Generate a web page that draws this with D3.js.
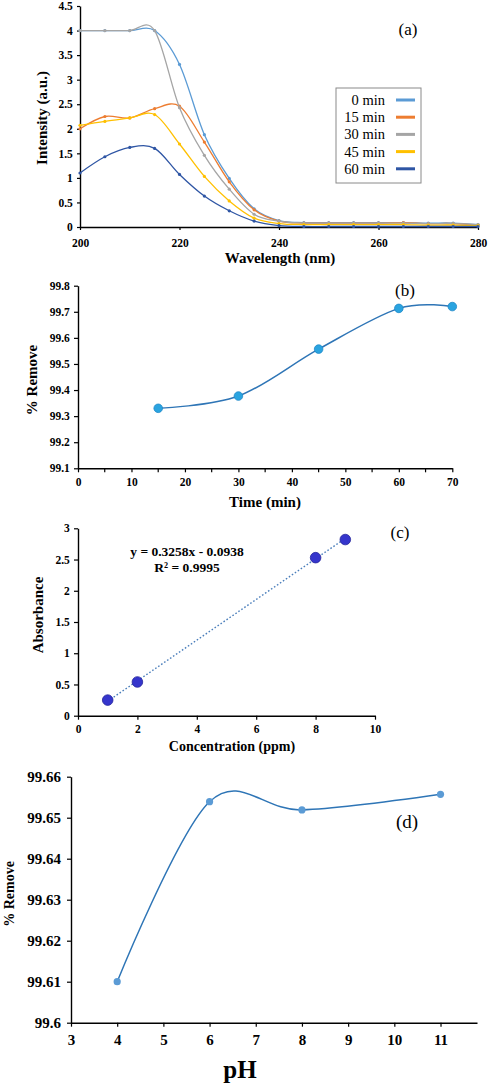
<!DOCTYPE html>
<html><head><meta charset="utf-8">
<script src="https://cdn.jsdelivr.net/npm/d3@7/dist/d3.min.js"></script>
<style>
body{margin:0;background:#fff;}
svg{display:block;}
text{font-family:"Liberation Serif","Times New Roman",serif;}
</style></head><body>
<svg id="c" width="491" height="1085"></svg>
<script>
// ---------- Panel (a) data ----------
const wavelengths = [200,205,210,215,220,225,230,235,240,245,250,255,260,265,270,275,280];
const seriesNames = ["0 min","15 min","30 min","45 min","60 min"];
const int0  = [4,4,4,4.0,3.31,1.88,0.99,0.37,0.13,0.09,0.09,0.09,0.09,0.09,0.08,0.08,0.05];
const int15 = [2.0,2.25,2.22,2.41,2.46,1.73,0.92,0.35,0.12,0.08,0.08,0.08,0.08,0.09,0.07,0.07,0.04];
const int30 = [4,4,4,4.0,2.43,1.46,0.77,0.26,0.12,0.08,0.08,0.08,0.08,0.08,0.07,0.07,0.05];
const int45 = [2.07,2.15,2.22,2.29,1.69,1.03,0.53,0.18,0.07,0.05,0.05,0.05,0.05,0.05,0.04,0.04,0.03];
const int60 = [1.1,1.43,1.62,1.6,1.07,0.63,0.33,0.12,0.03,0.01,0.01,0.01,0.01,0.01,0.01,0.01,0.01];
const aYTicks = [0,0.5,1,1.5,2,2.5,3,3.5,4,4.5];
const aXTicks = [200,220,240,260,280];

// ---------- Panel (b) data ----------
const timeMin = [15,30,45,60,70];
const removeTime = [99.33,99.377,99.557,99.713,99.72];
const bYTicks = [99.1,99.2,99.3,99.4,99.5,99.6,99.7,99.8];
const bXTicks = [0,10,20,30,40,50,60,70];

// ---------- Panel (c) data ----------
const concPpm = [1,2,8,9];
const absorb = [0.25,0.54,2.53,2.82];
const fitSlope = 0.3258, fitIntercept = -0.0938;
const cYTicks = [0,0.5,1,1.5,2,2.5,3];
const cXTicks = [0,2,4,6,8,10];

// ---------- Panel (d) data ----------
const pH = [4,6,8,11];
const removePH = [99.61,99.6539,99.6519,99.6557];
const dYTicks = [99.6,99.61,99.62,99.63,99.64,99.65,99.66];
const dXTicks = [3,4,5,6,7,8,9,10,11];

const svg = d3.select("#c");
const colors = ["#5B9BD5","#ED7D31","#A5A5A5","#FFC000","#2E55A4"];

function axes(g, x, y, xt, yt, opts){
  const fs = opts.fs || 11;
  const xa = g.append("g").attr("transform",`translate(0,${y.range()[0]})`)
    .call(d3.axisBottom(x).tickValues(xt).tickSize(opts.tick||4).tickSizeOuter(0).tickFormat(opts.xf||d3.format("")));
  const ya = g.append("g").attr("transform",`translate(${x.range()[0]},0)`)
    .call(d3.axisLeft(y).tickValues(yt).tickSize(opts.tick||4).tickSizeOuter(0).tickFormat(opts.yf||d3.format("")));
  [xa,ya].forEach(a=>{
    a.select(".domain").attr("stroke","#000").attr("stroke-width",1.4);
    a.selectAll(".tick line").attr("stroke","#000").attr("stroke-width",1.2);
    a.selectAll("text").attr("font-size",fs).attr("font-weight","bold").attr("fill","#000")
      .attr("font-family","'Liberation Serif',serif");
  });
  xa.selectAll("text").attr("dy", opts.xdy || "0.9em");
  ya.selectAll("text").attr("dx", opts.ydx || "-0.1em");
  return {xa,ya};
}

// ===== Panel (a) =====
{
  const x = d3.scaleLinear().domain([200,280]).range([80,478]);
  const y = d3.scaleLinear().domain([0,4.5]).range([227,6]);
  const g = svg.append("g");
  axes(g,x,y,aXTicks,aYTicks,{fs:11.5,tick:3,xdy:"1.25em"});
  const allSeries = [int0,int15,int30,int45,int60];
  const line = d3.line().x((d,i)=>x(wavelengths[i])).y(d=>y(d)).curve(d3.curveCardinal.tension(0));
  allSeries.forEach((s,k)=>{
    g.append("path").attr("d",line(s)).attr("fill","none").attr("stroke",colors[k]).attr("stroke-width",1.3);
    g.selectAll(null).data(s).enter().append("circle")
      .attr("cx",(d,i)=>x(wavelengths[i])).attr("cy",d=>y(d)).attr("r",1.6).attr("fill",colors[k]);
  });
  g.append("text").attr("x",280).attr("y",263).attr("text-anchor","middle")
    .attr("font-size",15).attr("font-weight","bold").text("Wavelength (nm)");
  g.append("text").attr("transform","translate(47,118) rotate(-90)").attr("text-anchor","middle")
    .attr("font-size",15).attr("font-weight","bold").text("Intensity (a.u.)");
  g.append("text").attr("x",408).attr("y",35).attr("text-anchor","middle")
    .attr("font-size",17).text("(a)");
  const lg = g.append("g");
  lg.append("rect").attr("x",336).attr("y",88).attr("width",85).attr("height",95)
    .attr("fill","#fff").attr("stroke","#8a8a8a").attr("stroke-width",1);
  seriesNames.forEach((n,k)=>{
    const yy = 100 + k*17.2;
    lg.append("text").attr("x",385).attr("y",yy+5).attr("text-anchor","end").attr("font-size",14.5).text(n);
    lg.append("line").attr("x1",396).attr("x2",415).attr("y1",yy).attr("y2",yy)
      .attr("stroke",colors[k]).attr("stroke-width",3);
  });
}

// ===== Panel (b) =====
{
  const x = d3.scaleLinear().domain([0,70]).range([78,452.3]);
  const y = d3.scaleLinear().domain([99.1,99.8]).range([468.3,285.7]);
  const g = svg.append("g");
  axes(g,x,y,bXTicks,bYTicks,{fs:11.5,tick:4,yf:d3.format(".1f")});
  g.selectAll(null).data([5,15,25,35,45,55,65]).enter().append("line")
    .attr("x1",d=>x(d)).attr("x2",d=>x(d)).attr("y1",468.3).attr("y2",472.3).attr("stroke","#000").attr("stroke-width",1.2);
  const line = d3.line().x((d,i)=>x(timeMin[i])).y(d=>y(d)).curve(d3.curveCardinal.tension(0));
  g.append("path").attr("d",line(removeTime)).attr("fill","none").attr("stroke","#2E75B6").attr("stroke-width",1.5);
  g.selectAll(null).data(removeTime).enter().append("circle")
    .attr("cx",(d,i)=>x(timeMin[i])).attr("cy",d=>y(d)).attr("r",4.3)
    .attr("fill","#2AA4E0").attr("stroke","#1E88C8").attr("stroke-width",0.8);
  g.append("text").attr("x",265).attr("y",507).attr("text-anchor","middle")
    .attr("font-size",15).attr("font-weight","bold").text("Time (min)");
  g.append("text").attr("transform","translate(37,380) rotate(-90)").attr("text-anchor","middle")
    .attr("font-size",15).attr("font-weight","bold").text("% Remove");
  g.append("text").attr("x",405).attr("y",296).attr("text-anchor","middle")
    .attr("font-size",17).text("(b)");
}

// ===== Panel (c) =====
{
  const x = d3.scaleLinear().domain([0,10]).range([78,375]);
  const y = d3.scaleLinear().domain([0,3]).range([715.7,528.3]);
  const g = svg.append("g");
  axes(g,x,y,cXTicks,cYTicks,{fs:11.5,tick:4});
  const fx = [concPpm[0], concPpm[concPpm.length-1]];
  g.append("line").attr("x1",x(fx[0])).attr("x2",x(fx[1]))
    .attr("y1",y(fitSlope*fx[0]+fitIntercept)).attr("y2",y(fitSlope*fx[1]+fitIntercept))
    .attr("stroke","#4A7EBB").attr("stroke-width",1.4).attr("stroke-dasharray","1.6,2");
  g.selectAll(null).data(absorb).enter().append("circle")
    .attr("cx",(d,i)=>x(concPpm[i])).attr("cy",d=>y(d)).attr("r",5.3)
    .attr("fill","#3535CC").attr("stroke","#24249A").attr("stroke-width",0.8);
  g.append("text").attr("x",187).attr("y",556).attr("text-anchor","middle")
    .attr("font-size",13.5).attr("font-weight","bold").text("y = 0.3258x - 0.0938");
  g.append("text").attr("x",187).attr("y",572).attr("text-anchor","middle")
    .attr("font-size",13.5).attr("font-weight","bold").text("R² = 0.9995");
  g.append("text").attr("x",232).attr("y",751).attr("text-anchor","middle")
    .attr("font-size",14).attr("font-weight","bold").text("Concentration (ppm)");
  g.append("text").attr("transform","translate(43,615) rotate(-90)").attr("text-anchor","middle")
    .attr("font-size",15).attr("font-weight","bold").text("Absorbance");
  g.append("text").attr("x",400).attr("y",538).attr("text-anchor","middle")
    .attr("font-size",17).text("(c)");
}

// ===== Panel (d) =====
{
  const x = d3.scaleLinear().domain([3,11.79]).range([71,477]);
  const y = d3.scaleLinear().domain([99.6,99.66]).range([1022.7,776.7]);
  const g = svg.append("g");
  axes(g,x,y,dXTicks,dYTicks,{fs:15,tick:4,yf:d => d3.format(".2f")(d).replace(/0+$/,"").replace(/\.$/,""),xdy:"1.05em",ydx:"-0.2em"});
  const line = d3.line().x((d,i)=>x(pH[i])).y(d=>y(d)).curve(d3.curveCardinal.tension(0));
  g.append("path").attr("d",line(removePH)).attr("fill","none").attr("stroke","#2E75B6").attr("stroke-width",1.5);
  g.selectAll(null).data(removePH).enter().append("circle")
    .attr("cx",(d,i)=>x(pH[i])).attr("cy",d=>y(d)).attr("r",3.6).attr("fill","#5B9BD5");
  g.append("text").attr("x",240).attr("y",1078).attr("text-anchor","middle")
    .attr("font-size",25).attr("font-weight","bold").text("pH");
  g.append("text").attr("transform","translate(14,894) rotate(-90)").attr("text-anchor","middle")
    .attr("font-size",14).attr("font-weight","bold").text("% Remove");
  g.append("text").attr("x",407).attr("y",828).attr("text-anchor","middle")
    .attr("font-size",19).text("(d)");
}
</script></body></html>
